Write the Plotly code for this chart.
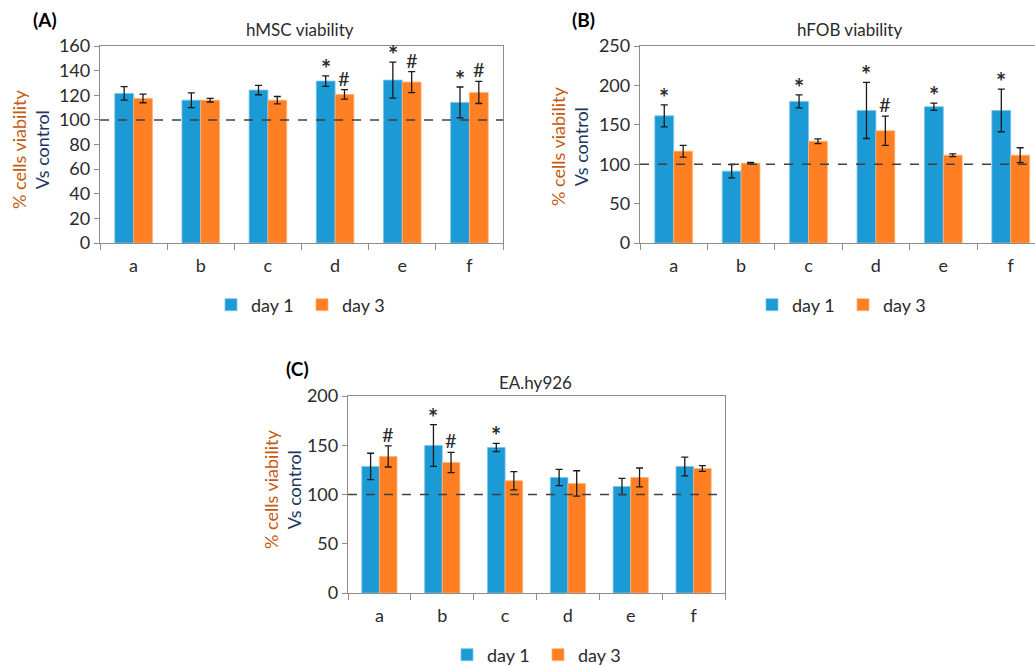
import plotly.graph_objects as go

W, H = 1035, 666
cats = ["a", "b", "c", "d", "e", "f"]

# Panel A: hMSC viability
a_d1 = [121.5, 116, 124.2, 131.5, 132.3, 114.2]
a_d1_err = [5.5, 6, 3.8, 4.3, 14.6, 12.5]
a_d3 = [117.4, 116, 116, 120.7, 130.7, 122.3]
a_d3_err = [3.5, 1.5, 3, 3.8, 8.5, 9]
a_star = ["", "", "", "*", "*", "*"]
a_hash = ["", "", "", "#", "#", "#"]

# Panel B: hFOB viability
b_d1 = [161.4, 91.1, 179.7, 168.2, 172.9, 168.2]
b_d1_err = [14, 8.5, 8.3, 35.6, 4.5, 27]
b_d3 = [116.5, 101.3, 129.2, 142.4, 111.4, 111.4]
b_d3_err = [7.5, 1, 3, 18.6, 1.7, 9.5]
b_star = ["*", "", "*", "*", "*", "*"]
b_hash = ["", "", "", "#", "", ""]

# Panel C: EA.hy926
c_d1 = [128.5, 149.8, 147.8, 117.3, 108.1, 128.5]
c_d1_err = [13.4, 21.2, 4.2, 8.3, 8.3, 9.5]
c_d3 = [138.6, 132.5, 113.9, 111.2, 117.3, 126.4]
c_d3_err = [10.7, 10.3, 9.3, 12.9, 9.6, 3]
c_star = ["", "*", "*", "", "", ""]
c_hash = ["#", "#", "", "", "", ""]

BLUE = "#1b9ad6"
ORANGE = "#ff7f22"
FONT = "Lato"
AXC = "#8c8c8c"
TXT = "#2b2b2b"

def px_x(x):
    return x / W

def px_y(y):
    return (H - y) / H

panels = [
    dict(name="A", x0=100, x1=503, y0=46, y1=243, ymax=160, dtick=20, xr=[-0.5, 5.5],
         d1=a_d1, e1=a_d1_err, d3=a_d3, e3=a_d3_err, s=a_star, h=a_hash,
         title="hMSC viability", tx=300, ty=30, lx=45, ly=20, legx=302, legy=305, ytx=30, yty=150),
    dict(name="B", x0=640, x1=1035, y0=46, y1=243, ymax=250, dtick=50, xr=[-0.5, 5.36],
         d1=b_d1, e1=b_d1_err, d3=b_d3, e3=b_d3_err, s=b_star, h=b_hash,
         title="hFOB viability", tx=849, ty=30, lx=583, ly=20, legx=843, legy=305, ytx=570, yty=147),
    dict(name="C", x0=348, x1=725, y0=396, y1=593, ymax=200, dtick=50, xr=[-0.5, 5.5],
         d1=c_d1, e1=c_d1_err, d3=c_d3, e3=c_d3_err, s=c_star, h=c_hash,
         title="EA.hy926", tx=535, ty=382, lx=297, ly=368, legx=538, legy=655, ytx=282, yty=490),
]

fig = go.Figure()
annotations = []
shapes = []
layout_axes = {}

for i, p in enumerate(panels):
    n = "" if i == 0 else str(i + 1)
    xa, ya = "x" + n, "y" + n
    leg = "legend" + n
    err_style = dict(type="data", visible=True, color="#1a1a1a", thickness=1.3, width=3.5)
    fig.add_trace(go.Bar(x=cats, y=p["d1"], name="day 1", marker_color=BLUE,
                         marker_line=dict(color="#7cc3ea", width=0.8),
                         error_y=dict(array=p["e1"], **err_style),
                         xaxis=xa, yaxis=ya, legend=leg))
    fig.add_trace(go.Bar(x=cats, y=p["d3"], name="day 3", marker_color=ORANGE,
                         marker_line=dict(color="#ffb27a", width=0.8),
                         error_y=dict(array=p["e3"], **err_style),
                         xaxis=xa, yaxis=ya, legend=leg))
    layout_axes["xaxis" + n] = dict(
        domain=[px_x(p["x0"]), px_x(p["x1"])], anchor=ya, type="category",
        categoryorder="array", categoryarray=cats, range=p["xr"],
        showline=True, linecolor=AXC, linewidth=1.3, mirror=True,
        ticks="outside", tickson="boundaries", ticklen=6, tickcolor=AXC,
        tickfont=dict(family=FONT, size=18, color=TXT), ticklabelstandoff=6,
        showgrid=False, zeroline=False, fixedrange=True)
    layout_axes["yaxis" + n] = dict(
        domain=[px_y(p["y1"]), px_y(p["y0"])], anchor=xa,
        range=[0, p["ymax"]], dtick=p["dtick"],
        showline=True, linecolor=AXC, linewidth=1.3, mirror=True,
        ticks="outside", ticklen=5, tickcolor=AXC,
        tickfont=dict(family=FONT, size=18, color=TXT),
        showgrid=False, zeroline=False, fixedrange=True)
    fig.update_layout(**{leg: dict(
        orientation="h", x=px_x(p["legx"]), y=px_y(p["legy"]), xanchor="center", yanchor="middle",
        font=dict(family=FONT, size=18, color=TXT), bgcolor="rgba(0,0,0,0)",
        itemwidth=30, tracegroupgap=0, entrywidth=46, entrywidthmode="pixels")})
    # dashed 100% line
    shapes.append(dict(type="line", xref=xa + " domain", yref=ya, x0=0, x1=1, y0=100, y1=100,
                       line=dict(color="#404040", width=1.5, dash="dash")))
    # significance markers
    for j in range(6):
        for txt, val, err, off in ((p["s"][j], p["d1"][j], p["e1"][j], -0.14),
                                   (p["h"][j], p["d3"][j], p["e3"][j], 0.14)):
            if txt:
                annotations.append(dict(x=j + off, y=val + err, xref=xa, yref=ya,
                                        text="<b>*</b>" if txt == "*" else "#",
                                        showarrow=False, yanchor="bottom",
                                        yshift=-9 if txt == "*" else -2,
                                        font=dict(family=FONT, size=24 if txt == "*" else 20, color=TXT)))
    # titles
    annotations.append(dict(x=px_x(p["tx"]), y=px_y(p["ty"]), xref="paper", yref="paper",
                            text=p["title"], showarrow=False, xanchor="center", yanchor="middle",
                            font=dict(family=FONT, size=17, color=TXT)))
    annotations.append(dict(x=px_x(p["lx"]), y=px_y(p["ly"]), xref="paper", yref="paper",
                            text="<b>(" + p["name"] + ")</b>", showarrow=False, xanchor="center",
                            yanchor="middle", font=dict(family=FONT, size=19, color="#000000")))
    annotations.append(dict(x=px_x(p["ytx"]), y=px_y(p["yty"]), xref="paper", yref="paper",
                            text="<span style='color:#c55a11'>% cells viability</span><br>"
                                 "<span style='color:#203864'>Vs control</span>",
                            textangle=-90, showarrow=False, xanchor="center", yanchor="middle",
                            font=dict(family=FONT, size=18)))

fig.update_layout(
    width=W, height=H, margin=dict(l=0, r=0, t=0, b=0, autoexpand=False),
    paper_bgcolor="white", plot_bgcolor="white",
    barmode="group", bargap=0.44, bargroupgap=0,
    annotations=annotations, shapes=shapes,
    **layout_axes)

fig.write_html("out.html", config={"displayModeBar": False},
               post_script="document.body.style.margin='0';document.body.style.overflow='hidden';")
